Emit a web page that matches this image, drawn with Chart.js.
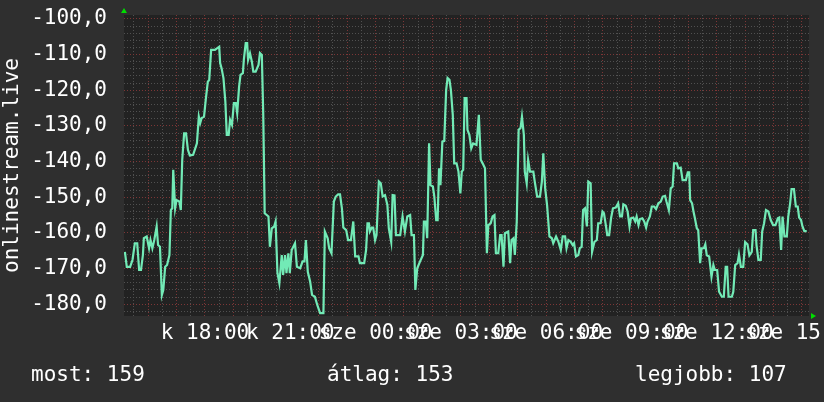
<!DOCTYPE html>
<html>
<head>
<meta charset="utf-8">
<style>
  html, body { margin: 0; padding: 0; background: #2f2f2f; }
  canvas { display: block; }
</style>
<script src="https://cdn.jsdelivr.net/npm/chart.js"></script>
</head>
<body>
<canvas id="signalChart" width="824" height="402"></canvas>
<script>
  // minutes since 15:00 of the first day
  const times = [11,15,22,27,32,37,41,45,49,51,57,62,65,69,73,78,81,85,89,92,96,100,105,108,111,113,117,120,126,129,
    132,136,140,144,148,155,163,167,170,173,178,182,186,189,193,201,206,210,212,215,219,223,226,230,233,237,241,245,248,252,
    255,260,262,266,269,271,275,279,282,287,293,296,300,303,306,314,317,321,326,329,333,337,342,345,349,352,356,359,363,370,
    374,381,386,390,393,397,402,406,412,417,423,430,433,439,442,447,452,456,461,465,469,472,478,482,488,493,497,504,507,516,
    520,523,526,528,532,535,539,542,547,551,555,560,565,568,573,576,580,583,592,597,602,607,613,616,621,624,628,634,640,642,
    646,649,653,656,661,664,668,671,674,677,681,685,689,692,696,699,703,706,711,715,719,722,725,728,732,734,738,742,746,753,
    758,762,766,771,775,778,783,787,791,794,799,803,806,810,813,820,824,827,831,834,838,842,846,849,853,855,859,862,866,873,
    876,881,887,891,894,898,902,907,912,915,921,926,931,935,940,943,947,952,956,959,963,968,971,975,978,982,986,989,994,997,
    1002,1007,1010,1015,1019,1022,1026,1029,1033,1037,1041,1047,1052,1056,1060,1063,1068,1072,1076,1079,1084,1088,1091,1095,1098,1103,1107,1111,1114,1119,
    1123,1128,1132,1137,1142,1146,1151,1154,1159,1163,1167,1170,1176,1179,1184,1188,1195,1199,1202,1204,1208,1211,1214,1218,1221,1225,1228,1233,1236,1239,
    1244,1249,1253,1256,1261,1265,1271,1275,1279,1282,1285,1292,1295,1299,1304,1307,1311,1316,1320,1325,1329,1334,1337,1342,1344,1348,1353,1356,1360,1364,
    1369,1374,1379,1384,1389,1392,1396,1399,1403,1408,1411,1415,1418,1423,1427,1431,1434,1438,1441,1445,1450];

  const signal = [-165.3,-169.5,-169.5,-167.6,-162.9,-162.9,-170.4,-170.4,-166.2,-161.5,-161.0,-164.3,-162.0,-164.3,-162.0,-158.2,-163.4,-163.9,-177.4,-176.0,-169.5,-169.0,-166.2,-153.6,-153.1,-142.3,-153.1,-150.8,-151.2,-153.6,
    -139.5,-132.1,-132.1,-136.7,-138.3,-138.1,-134.9,-127.4,-129.2,-127.8,-127.4,-122.2,-117.6,-117.1,-108.7,-108.7,-108.2,-107.8,-112.4,-113.8,-116.6,-123.2,-132.5,-132.5,-128.3,-129.7,-123.6,-123.6,-126.4,-119.0,
    -115.7,-115.2,-111.5,-106.8,-106.8,-111.5,-109.6,-112.0,-114.8,-114.8,-112.9,-109.6,-110.1,-126.9,-154.5,-155.4,-163.9,-158.7,-158.2,-156.8,-171.3,-174.1,-166.2,-171.8,-166.2,-171.3,-165.7,-171.3,-164.8,-162.9,
    -169.5,-169.9,-168.0,-168.0,-162.0,-170.9,-173.7,-177.4,-177.9,-180.2,-182.5,-182.5,-159.6,-161.5,-164.3,-165.7,-151.2,-149.8,-149.2,-149.2,-153.1,-158.5,-159.2,-162.0,-162.0,-156.8,-166.6,-166.6,-168.5,-168.5,
    -164.8,-157.3,-157.3,-159.6,-158.5,-158.5,-162.0,-160.6,-145.6,-146.1,-149.8,-149.4,-152.2,-158.7,-162.5,-149.4,-149.5,-160.6,-160.6,-155.4,-159.6,-155.4,-155.0,-160.6,-160.6,-176.0,-169.9,-168.0,-166.2,-156.8,
    -156.8,-161.5,-134.9,-146.6,-147.0,-149.8,-156.4,-156.4,-141.9,-146.6,-134.4,-134.2,-119.9,-116.6,-117.1,-119.9,-126.9,-140.5,-140.5,-142.8,-148.9,-142.8,-142.3,-122.2,-122.2,-131.1,-132.5,-136.3,-134.9,-135.3,
    -126.9,-139.5,-140.5,-141.9,-165.7,-157.8,-157.3,-155.4,-155.0,-165.7,-165.7,-160.6,-160.6,-169.5,-160.1,-159.6,-168.5,-162.0,-161.5,-166.2,-156.8,-131.1,-130.6,-127.4,-132.5,-142.8,-146.1,-139.5,-142.8,-142.8,
    -145.6,-149.8,-149.8,-145.6,-137.7,-147.5,-152.2,-161.0,-161.5,-162.9,-161.0,-162.5,-164.8,-161.0,-161.0,-164.3,-162.0,-162.5,-163.4,-162.9,-166.6,-166.2,-164.3,-163.9,-153.6,-153.1,-158.2,-145.6,-146.1,-165.3,
    -162.5,-162.0,-157.3,-157.3,-154.0,-154.5,-157.8,-160.6,-160.6,-155.9,-153.1,-152.9,-151.7,-155.4,-155.4,-152.0,-152.4,-154.0,-158.2,-155.9,-155.7,-156.8,-155.4,-157.8,-156.1,-155.9,-156.8,-158.5,-156.8,-155.4,
    -152.6,-152.6,-153.3,-151.7,-151.2,-149.8,-149.6,-151.2,-153.6,-147.5,-147.0,-140.5,-140.5,-141.9,-141.7,-145.2,-145.2,-143.0,-143.0,-150.8,-151.7,-154.0,-155.9,-158.7,-159.2,-168.5,-164.3,-164.3,-163.2,-166.3,
    -166.6,-172.3,-169.0,-170.4,-170.4,-176.5,-177.9,-177.9,-169.5,-169.5,-177.9,-177.9,-176.5,-169.0,-168.5,-166.0,-169.5,-169.5,-162.6,-163.2,-166.3,-165.3,-159.2,-159.2,-163.4,-167.6,-167.6,-159.6,-157.3,-153.6,
    -154.0,-156.4,-157.8,-157.8,-155.9,-155.7,-164.8,-155.4,-161.0,-161.0,-155.4,-151.7,-147.7,-147.7,-152.6,-152.6,-155.7,-156.4,-158.2,-159.5,-159.5];

  const tickLabels = {
    180: 'k 18:00', 360: 'k 21:00', 540: 'sze 00:00', 720: 'sze 03:00',
    900: 'sze 06:00', 1080: 'sze 09:00', 1260: 'sze 12:00', 1440: 'sze 15:00'
  };
  const yTitle = 'onlinestream.live';
  const legendItems = [['most: 159', 31], ['átlag: 153', 327], ['legjobb: 107', 635]];

  const FONT = '"DejaVu Sans Mono", "Liberation Mono", monospace';

  const rrdDecor = {
    id: 'rrdDecor',
    beforeDraw(chart) {
      const { ctx, chartArea: a } = chart;
      ctx.save();
      ctx.fillStyle = '#222222';
      ctx.fillRect(a.left, a.top, a.right - a.left, a.bottom - a.top);
      ctx.restore();
    },
    afterDraw(chart) {
      const { ctx, chartArea: a } = chart;
      ctx.save();
      // axis arrows
      ctx.fillStyle = '#00dd00';
      ctx.beginPath();
      ctx.moveTo(a.left - 3, a.top - 2);
      ctx.lineTo(a.left + 3, a.top - 2);
      ctx.lineTo(a.left, a.top - 7);
      ctx.closePath();
      ctx.fill();
      ctx.beginPath();
      ctx.moveTo(a.right + 2, a.bottom - 3);
      ctx.lineTo(a.right + 2, a.bottom + 3);
      ctx.lineTo(a.right + 7, a.bottom);
      ctx.closePath();
      ctx.fill();
      // summary line
      ctx.fillStyle = '#ffffff';
      ctx.font = '21px ' + FONT;
      ctx.textBaseline = 'alphabetic';
      legendItems.forEach(([t, x]) => ctx.fillText(t, x, 381));
      ctx.restore();
    }
  };

  const ctx = document.getElementById('signalChart').getContext('2d');
  new Chart(ctx, {
    type: 'line',
    data: {
      datasets: [{
        data: times.map((t, i) => ({ x: t, y: signal[i] })),
        borderColor: '#72eab6',
        borderWidth: 2.2,
        pointRadius: 0,
        tension: 0,
        fill: false
      }]
    },
    options: {
      responsive: false,
      animation: false,
      layout: { padding: { top: 15, right: 15, left: 0, bottom: 56 } },
      plugins: { legend: { display: false }, tooltip: { enabled: false } },
      scales: {
        x: {
          type: 'linear',
          min: 9.1,
          max: 1454.8,
          afterBuildTicks(scale) {
            const t = [];
            for (let v = 30; v <= 1440; v += 30) t.push({ value: v });
            scale.ticks = t;
          },
          afterFit(scale) {
            scale.height = 30;
            scale.paddingLeft = 0;
            scale.paddingRight = 0;
          },
          grid: {
            drawTicks: false,
            color: c => (c.tick && c.tick.value % 60 === 0) ? '#7c3636' : '#505050'
          },
          border: { display: false, dash: [1, 2] },
          ticks: {
            autoSkip: false,
            maxRotation: 0,
            minRotation: 0,
            padding: 5,
            color: '#ffffff',
            font: { family: FONT, size: 21 },
            callback: v => tickLabels[v] || ''
          }
        },
        y: {
          min: -183.3,
          max: -98.9,
          afterBuildTicks(scale) {
            const t = [];
            for (let v = -182; v <= -100; v += 2) t.push({ value: v });
            scale.ticks = t;
          },
          afterFit(scale) {
            scale.width = 124;
            scale.paddingTop = 0;
            scale.paddingBottom = 0;
          },
          grid: {
            drawTicks: false,
            color: c => (c.tick && c.tick.value % 10 === 0) ? '#7c3636' : '#505050'
          },
          border: { display: false, dash: [1, 2] },
          title: {
            display: true,
            text: yTitle,
            color: '#ffffff',
            font: { family: FONT, size: 21 },
            padding: 0
          },
          ticks: {
            autoSkip: false,
            padding: 17,
            color: '#ffffff',
            font: { family: FONT, size: 21 },
            callback: v => (v % 10 === 0) ? v.toFixed(1).replace('.', ',') : ''
          }
        }
      }
    },
    plugins: [rrdDecor]
  });
</script>
</body>
</html>
